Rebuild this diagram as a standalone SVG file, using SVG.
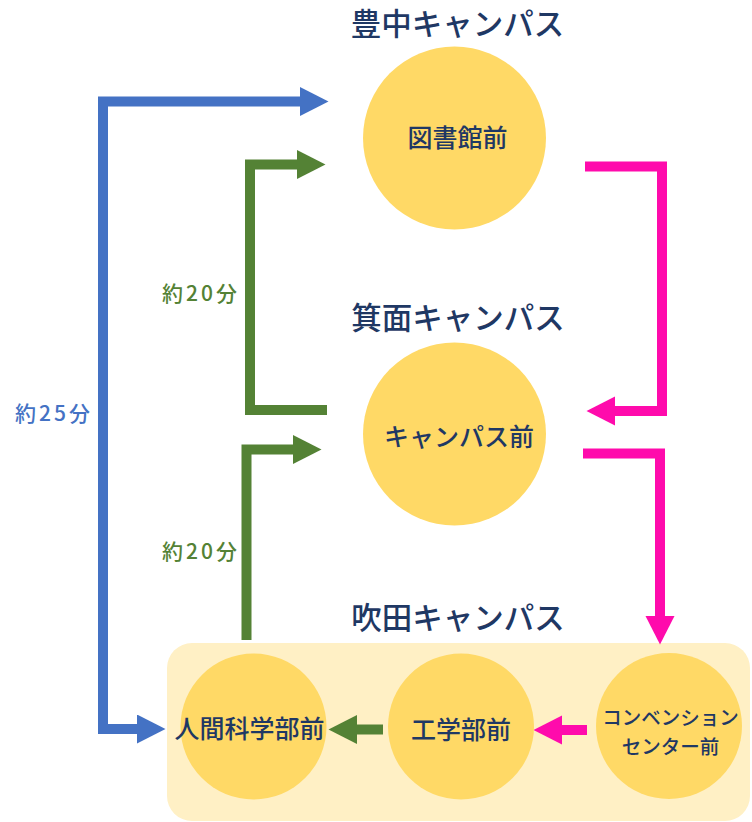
<svg xmlns="http://www.w3.org/2000/svg" width="752" height="822" viewBox="0 0 752 822">
<style>
.title{font-family:"Noto Sans CJK JP","Noto Sans",sans-serif;font-size:30.5px;fill:#1F3864;text-anchor:middle;font-weight:500}
.node{fill:#FFD966}
.lbl{font-family:"Noto Sans CJK JP","Noto Sans",sans-serif;font-size:25px;fill:#1F3864;text-anchor:middle;font-weight:500}
.small{font-size:19.5px}
.time{font-family:"Noto Sans CJK JP","Noto Sans",sans-serif;font-size:21px;font-weight:500;letter-spacing:3px}
.ln{fill:none;stroke-width:10;stroke-linejoin:miter;stroke-linecap:butt}
.blue{stroke:#4472C4}
.green{stroke:#548235}
.pink{stroke:#FF0BAC}
</style>
<defs>
<marker id="hb" markerUnits="userSpaceOnUse" markerWidth="29" markerHeight="30" refX="0" refY="14.5" orient="auto-start-reverse" viewBox="0 0 29 30"><path d="M0,0 L28.5,14.5 L0,29 z" fill="#4472C4"/></marker>
<marker id="hg" markerUnits="userSpaceOnUse" markerWidth="29" markerHeight="30" refX="0" refY="14.5" orient="auto" viewBox="0 0 29 30"><path d="M0,0 L28.5,14.5 L0,29 z" fill="#548235"/></marker>
<marker id="hp" markerUnits="userSpaceOnUse" markerWidth="29" markerHeight="30" refX="0" refY="14.5" orient="auto" viewBox="0 0 29 30"><path d="M0,0 L28.5,14.5 L0,29 z" fill="#FF0BAC"/></marker>
</defs>
<rect id="suita-area" x="167" y="643" width="583" height="178" rx="25" fill="#FFF0C5"/>
<g id="titles">
<text class="title" x="457.5" y="35">豊中キャンパス</text>
<text class="title" x="458" y="329">箕面キャンパス</text>
<text class="title" x="458" y="629">吹田キャンパス</text>
</g>
<g id="connectors">
<path class="ln blue" d="M137,729 H103 V101.5 H300" marker-start="url(#hb)" marker-end="url(#hb)"/>
<path class="ln green" d="M327,410 H250 V164.5 H297" marker-end="url(#hg)"/>
<path class="ln green" d="M246.5,640 V449.5 H293" marker-end="url(#hg)"/>
<path class="ln green" d="M383,729.5 H357" marker-end="url(#hg)"/>
<path class="ln pink" d="M585,166.5 H662 V411 H615" marker-end="url(#hp)"/>
<path class="ln pink" d="M583,453.5 H660 V616" marker-end="url(#hp)"/>
<path class="ln pink" d="M587,730 H562" marker-end="url(#hp)"/>
<text class="time" x="15" y="421" fill="#4472C4">約25分</text>
<text class="time" x="162" y="301" fill="#548235">約20分</text>
<text class="time" x="162" y="559" fill="#548235">約20分</text>
</g>
<g id="toshokan">
<circle class="node" cx="454.5" cy="138" r="91.5"/>
<text class="lbl" x="457.5" y="146.5" font-weight="bold">図書館前</text>
</g>
<g id="campus-mae">
<circle class="node" cx="454.5" cy="434" r="91.5"/>
<text class="lbl" x="459" y="446">キャンパス前</text>
</g>
<g id="ningen">
<circle class="node" cx="253.5" cy="726.5" r="73"/>
<text class="lbl" x="249.5" y="738">人間科学部前</text>
</g>
<g id="kogaku">
<circle class="node" cx="461" cy="726.5" r="73"/>
<text class="lbl" x="461" y="738.5">工学部前</text>
</g>
<g id="convention">
<circle class="node" cx="669" cy="726" r="73"/>
<text class="lbl small" x="670.5" y="725">コンベンション</text>
<text class="lbl small" x="670.5" y="753.5">センター前</text>
</g>
</svg>
